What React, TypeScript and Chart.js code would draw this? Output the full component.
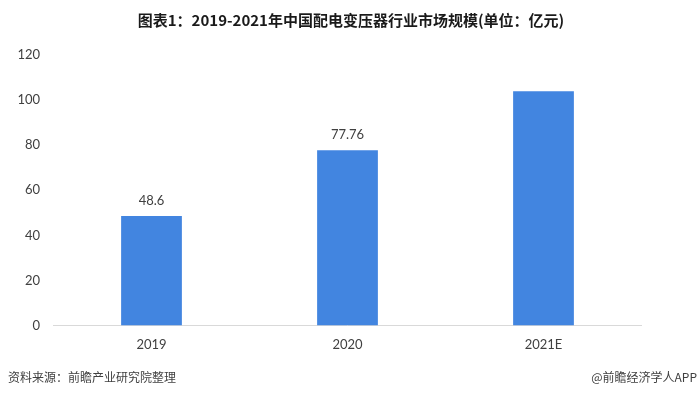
import React, { useEffect, useRef } from "react";
import { Chart, registerables } from "chart.js";

Chart.register(...registerables);

const categories = ["2019", "2020", "2021E"];
const values = [48.6, 77.76, 103.9];
const valueLabels = ["48.6", "77.76", ""];
const yTicks = [0, 20, 40, 60, 80, 100, 120];
const titleText = "图表1：2019-2021年中国配电变压器行业市场规模(单位：亿元)";
const sourceText = "资料来源：前瞻产业研究院整理";
const brandText = "@前瞻经济学人APP";

export default function App() {
  const ref = useRef<HTMLCanvasElement | null>(null);

  useEffect(() => {
    document.body.style.margin = "0";
    const canvas = ref.current;
    if (!canvas) return;

    const overlay = {
      id: "overlay",
      afterDraw(chart: any) {
        const ctx = chart.ctx;
        ctx.save();
        // title
        ctx.fillStyle = "#1a1a1a";
        ctx.font = "bold 15px 'Liberation Sans Narrow', 'Noto Sans CJK SC', sans-serif";
        ctx.textAlign = "center";
        ctx.textBaseline = "middle";
        ctx.fillText(titleText, 351, 20);
        // footer
        ctx.fillStyle = "#404040";
        ctx.font = "12px 'Noto Sans CJK SC', sans-serif";
        ctx.textAlign = "left";
        ctx.fillText(sourceText, 8, 377);
        ctx.textAlign = "right";
        ctx.fillText(brandText, 697, 377);
        // value labels
        const meta = chart.getDatasetMeta(0);
        ctx.fillStyle = "#404040";
        ctx.font = "13px Lato, 'Open Sans', sans-serif";
        ctx.textAlign = "center";
        ctx.textBaseline = "bottom";
        meta.data.forEach((bar: any, i: number) => {
          const t = valueLabels[i];
          if (t) ctx.fillText(t, bar.x, bar.y - 9);
        });
        ctx.restore();
      },
    };

    const chart = new Chart(canvas, {
      type: "bar",
      data: {
        labels: categories,
        datasets: [
          {
            data: values,
            backgroundColor: "#4285e0",
            borderWidth: 0,
            categoryPercentage: 1,
            barPercentage: 0.31,
          },
        ],
      },
      options: {
        animation: false,
        responsive: false,
        maintainAspectRatio: false,
        layout: { padding: { top: 55, right: 57.5, left: 0, bottom: 0 } },
        plugins: {
          legend: { display: false },
          title: { display: false },
          tooltip: { enabled: false },
        },
        scales: {
          x: {
            grid: { display: false, drawTicks: false },
            border: { display: true, color: "#d9d9d9", width: 1 },
            ticks: {
              color: "#404040",
              font: { family: "Lato, 'Open Sans', sans-serif", size: 13 },
              padding: 12,
            },
            afterFit(scale: any) {
              scale.height = 67.5;
            },
          },
          y: {
            min: 0,
            max: 120,
            afterBuildTicks(scale: any) {
              scale.ticks = yTicks.map((v) => ({ value: v }));
            },
            grid: { display: false, drawTicks: false },
            border: { display: false },
            ticks: {
              color: "#404040",
              font: { family: "Lato, 'Open Sans', sans-serif", size: 13 },
              padding: 13.5,
            },
            afterFit(scale: any) {
              scale.width = 53.5;
            },
          },
        },
      },
      plugins: [overlay],
    });

    return () => chart.destroy();
  }, []);

  return (
    <div style={{ width: 699, height: 393, background: "#fff" }}>
      <canvas ref={ref} width={699} height={393} style={{ display: "block" }} />
    </div>
  );
}
